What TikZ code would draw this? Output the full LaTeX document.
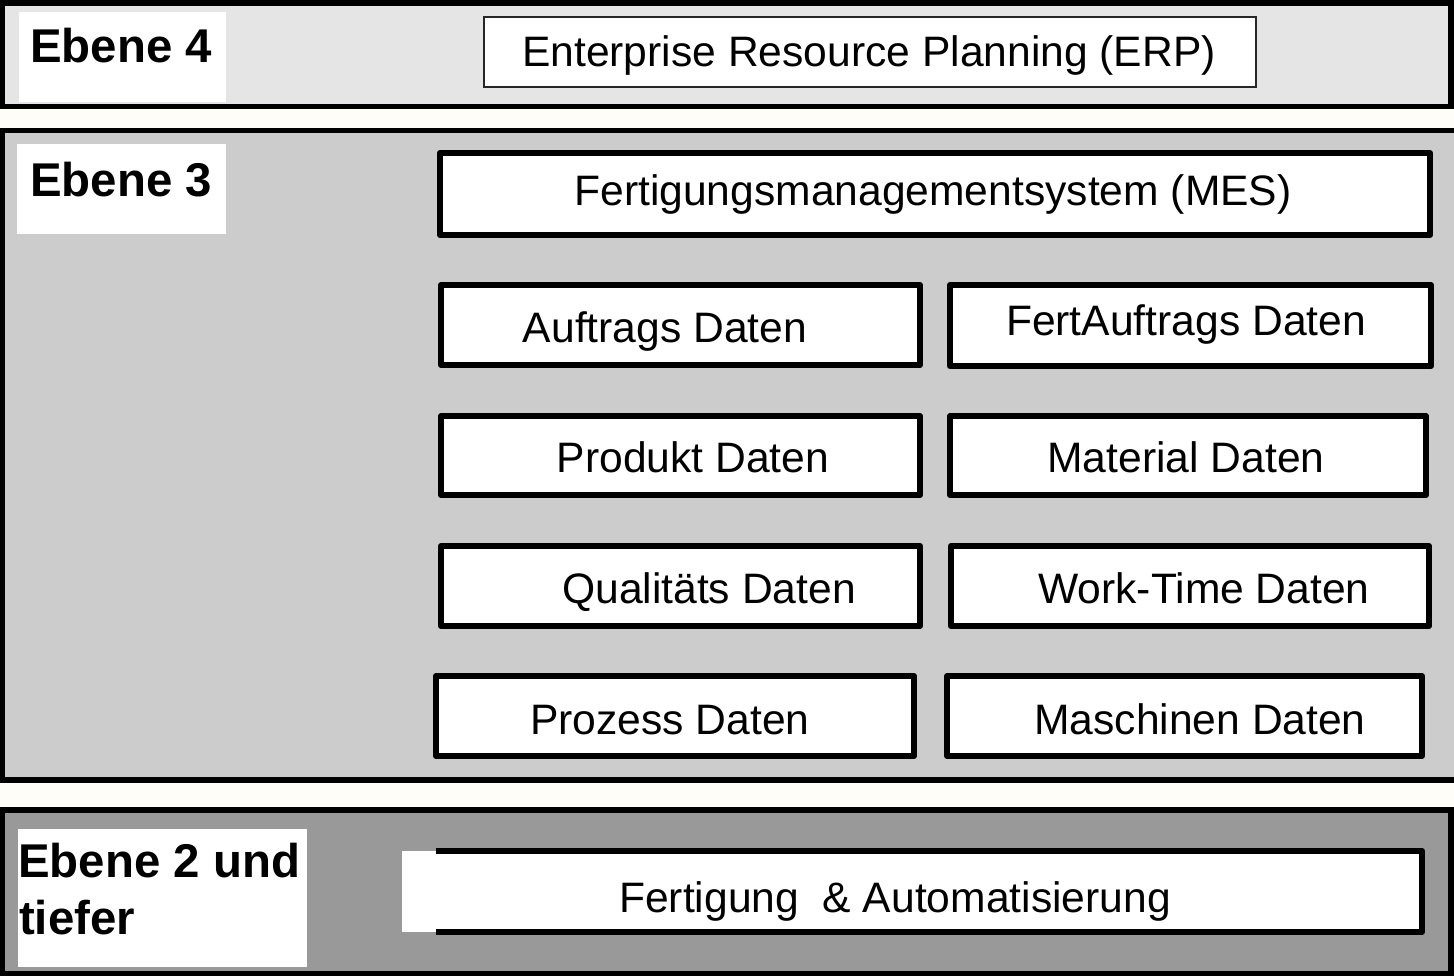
\documentclass[tikz,border=0pt]{standalone}
\usepackage{fontspec}
\setmainfont{Liberation Sans}
\newcommand\setfsz[1]{\fontsize{#1pt}{#1pt}\selectfont}
\definecolor{gapcol}{HTML}{FFFDF7}
\definecolor{lvlfour}{HTML}{E5E5E5}
\definecolor{lvlthree}{HTML}{CCCCCC}
\definecolor{lvltwo}{HTML}{999999}
\begin{document}
\begin{tikzpicture}[x=1pt,y=-1pt,
  levelband/.style={draw=black, line width=5.5pt, inner sep=0pt, outer sep=0pt},
  lblbox/.style={fill=white, inner sep=0pt, outer sep=0pt},
  lbltext/.style={anchor=base west, inner sep=0pt, font=\bfseries\setfsz{47.4}},
  databox/.style={draw=black, fill=white, line width=6pt, line join=round, inner sep=0pt, outer sep=0pt},
  datatext/.style={anchor=base, inner sep=0pt, font=\setfsz{42.6}},
]
\useasboundingbox (0,0) rectangle (1454,976);
\clip (0,0) rectangle (1454,976);
\fill[gapcol] (0,0) rectangle (1454,976);

% level bands
\node[levelband, fill=lvlfour, minimum width=1448.5pt, minimum height=103.5pt] (band4) at (726.75,54.75) {};
\node[levelband, fill=lvlthree, minimum width=1467.5pt, minimum height=649.5pt] (band3) at (736.25,455.25) {};
\node[levelband, fill=lvltwo, minimum width=1448.5pt, minimum height=164pt] (band2) at (726.75,892) {};

% level labels
\node[lblbox, minimum width=207pt, minimum height=90pt] (lbl4) at (122.5,57) {};
\node[lbltext] (lbl4t) at (30,63) {Ebene 4};
\node[lblbox, minimum width=209pt, minimum height=90pt] (lbl3) at (121.5,189) {};
\node[lbltext] (lbl3t) at (30,197) {Ebene 3};
\node[lblbox, minimum width=289pt, minimum height=138pt] (lbl2) at (162.5,898) {};
\node[lbltext] (lbl2t) at (18,877) {Ebene 2 und};
\node[lbltext] (lbl2u) at (19,934) {tiefer};

% level 4
\node[draw=black!85, fill=white, line width=1.5pt, inner sep=0pt, outer sep=0pt,
      minimum width=772pt, minimum height=70pt] (erp) at (870,52) {};
\node[datatext] (erpT) at (869,67) {Enterprise Resource Planning (ERP)};

% level 3
\node[databox, minimum width=990pt, minimum height=82pt] (mes) at (935,194) {};
\node[datatext] (mesT) at (933,206) {Fertigungsmanagementsystem (MES)};

\node[databox, minimum width=479pt, minimum height=80pt] (auf) at (680.5,325) {};
\node[datatext] (aufT) at (665,342) {Auftrags Daten};
\node[databox, minimum width=481pt, minimum height=81pt] (fauf) at (1190.5,325.5) {};
\node[datatext] (faufT) at (1186,336) {FertAuftrags Daten};

\node[databox, minimum width=479pt, minimum height=79pt] (prod) at (680.5,455.5) {};
\node[datatext] (prodT) at (693,472) {Produkt Daten};
\node[databox, minimum width=476pt, minimum height=79pt] (mat) at (1188,455.5) {};
\node[datatext] (matT) at (1186,472) {Material Daten};

\node[databox, minimum width=479pt, minimum height=80pt] (qual) at (680.5,586) {};
\node[datatext] (qualT) at (709,603) {Qualitäts Daten};
\node[databox, minimum width=478pt, minimum height=80pt] (work) at (1190,586) {};
\node[datatext] (workT) at (1204,603) {Work-Time Daten};

\node[databox, minimum width=478pt, minimum height=80pt] (proz) at (675,716) {};
\node[datatext] (prozT) at (670,734) {Prozess Daten};
\node[databox, minimum width=475pt, minimum height=80pt] (masch) at (1184.5,716) {};
\node[datatext] (maschT) at (1200,734) {Maschinen Daten};

% level 2: box open on its left side
\node[fill=white, inner sep=0pt, outer sep=0pt, minimum width=1020pt, minimum height=81pt] (fert) at (912,891.5) {};
\draw[line width=6pt, line join=round] ([xshift=34pt]fert.north west) -- (fert.north east)
  -- (fert.south east) -- ([xshift=34pt]fert.south west);
\node[datatext] (fertT) at (895,912) {Fertigung\ \ \& Automatisierung};
\end{tikzpicture}
\end{document}
